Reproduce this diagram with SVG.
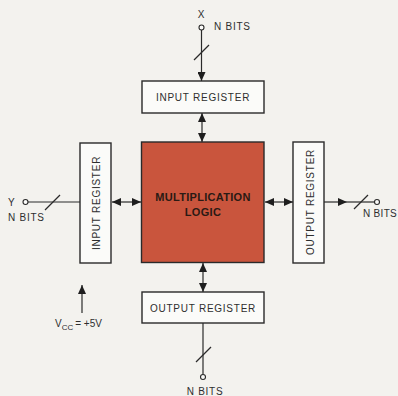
<svg xmlns="http://www.w3.org/2000/svg" width="398" height="396" viewBox="0 0 398 396">
<defs>
<style>
.box{fill:#fbfbf9;stroke:#2a2a2a;stroke-width:1.4}
.mult{fill:#c9553d;stroke:#2a2a2a;stroke-width:1.4}
.ln{fill:none;stroke:#2a2a2a;stroke-width:1.2}
.t{font-family:"Liberation Sans",Arial,sans-serif;font-size:10px;fill:#2e2e2e;letter-spacing:0.75px}
.tb{font-family:"Liberation Sans",Arial,sans-serif;font-size:11px;font-weight:bold;fill:#2a1a14;letter-spacing:0.3px}
.term{fill:#fbfbf9;stroke:#2a2a2a;stroke-width:1.1}
</style>
<marker id="ah" viewBox="0 0 9 8" refX="9" refY="4" markerWidth="9" markerHeight="8" markerUnits="userSpaceOnUse" orient="auto-start-reverse">
<path d="M0,0 L9,4 L0,8 Z" fill="#1e1e1e"/>
</marker>
</defs>
<rect width="398" height="396" fill="#f3f2ee"/>
<g id="connectors">
<line class="ln" x1="201.5" y1="30" x2="201.5" y2="81" marker-end="url(#ah)"/>
<line class="ln" x1="194" y1="60" x2="209" y2="45"/>
<line class="ln" x1="202" y1="113" x2="202" y2="142" marker-start="url(#ah)" marker-end="url(#ah)"/>
<line class="ln" x1="28" y1="202" x2="80" y2="202"/>
<line class="ln" x1="45" y1="210" x2="60" y2="195"/>
<line class="ln" x1="112" y1="202" x2="141" y2="202" marker-start="url(#ah)" marker-end="url(#ah)"/>
<line class="ln" x1="265" y1="202" x2="293" y2="202" marker-start="url(#ah)" marker-end="url(#ah)"/>
<line class="ln" x1="324" y1="202" x2="347" y2="202" marker-end="url(#ah)"/>
<line class="ln" x1="347" y1="202" x2="374.5" y2="202"/>
<line class="ln" x1="354" y1="209" x2="368" y2="195"/>
<line class="ln" x1="203" y1="263" x2="203" y2="292" marker-start="url(#ah)" marker-end="url(#ah)"/>
<line class="ln" x1="203" y1="323" x2="203" y2="374.5"/>
<line class="ln" x1="196" y1="362" x2="211" y2="347"/>
<line class="ln" x1="82" y1="313" x2="82" y2="285" marker-end="url(#ah)"/>
</g>
<g id="x-input">
<text class="t" x="201.5" y="17.5" text-anchor="middle">X</text>
<circle class="term" cx="201.5" cy="27.5" r="2.5"/>
<text class="t" x="214" y="29.5">N BITS</text>
</g>
<g id="y-input">
<text class="t" x="8" y="206">Y</text>
<circle class="term" cx="25.5" cy="202" r="2.5"/>
<text class="t" x="8" y="221">N BITS</text>
</g>
<g id="input-register-top">
<rect class="box" x="142" y="81" width="122" height="32"/>
<text class="t" x="203" y="100.5" text-anchor="middle">INPUT REGISTER</text>
</g>
<g id="input-register-left">
<rect class="box" x="80" y="143" width="31" height="120"/>
<text class="t" transform="translate(100,203) rotate(-90)" text-anchor="middle">INPUT REGISTER</text>
</g>
<g id="multiplication-logic">
<rect class="mult" x="141.5" y="142" width="122.5" height="120.5"/>
<text class="tb" x="203" y="201" text-anchor="middle">MULTIPLICATION</text>
<text class="tb" x="203" y="215.5" text-anchor="middle">LOGIC</text>
</g>
<g id="output-register-right">
<rect class="box" x="293" y="142" width="31" height="121"/>
<text class="t" transform="translate(313.5,202) rotate(-90)" text-anchor="middle">OUTPUT REGISTER</text>
</g>
<g id="output-right">
<circle class="term" cx="377" cy="202" r="2.5"/>
<text class="t" x="363" y="216.5" style="letter-spacing:0.3px">N BITS</text>
</g>
<g id="output-register-bottom">
<rect class="box" x="142" y="292" width="122" height="31"/>
<text class="t" x="203" y="311.5" text-anchor="middle">OUTPUT REGISTER</text>
</g>
<g id="output-bottom">
<circle class="term" cx="203" cy="377" r="2.5"/>
<text class="t" x="205" y="395" text-anchor="middle">N BITS</text>
</g>
<g id="vcc">
<text class="t" x="55" y="326.5" style="letter-spacing:0">V<tspan font-size="8" dy="3.5">CC</tspan><tspan dy="-3.5" dx="2">= +5V</tspan></text>
</g>
</svg>
